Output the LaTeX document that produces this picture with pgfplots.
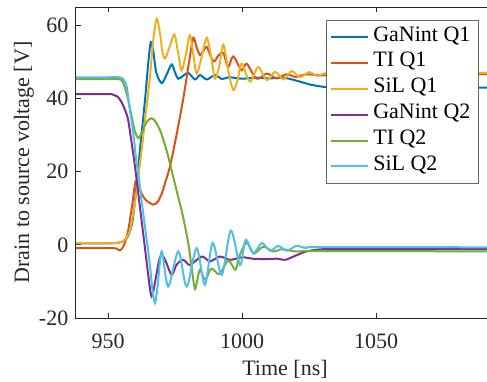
\documentclass[border=0pt]{standalone}
\usepackage{fontspec}
\setmainfont{Liberation Serif}
\usepackage{pgfplots}
\pgfplotsset{compat=1.18}
\definecolor{mBlue}{rgb}{0,0.447,0.741}
\definecolor{mOrange}{rgb}{0.85,0.325,0.098}
\definecolor{mYellow}{rgb}{0.929,0.694,0.125}
\definecolor{mPurple}{rgb}{0.494,0.184,0.556}
\definecolor{mGreen}{rgb}{0.466,0.674,0.188}
\definecolor{mCyan}{rgb}{0.301,0.745,0.933}
\definecolor{axgray}{rgb}{0.15,0.15,0.15}
\begin{document}
\fontsize{11}{13}\selectfont
\begin{tikzpicture}
\begin{axis}[
  name=ax,
  scale only axis,
  width=209pt, height=155.5pt,
  xmin=938, xmax=1094, ymin=-20, ymax=65,
  xtick={950,1000,1050}, ytick={-20,0,20,40,60},
  tick align=inside,
  major tick length=2.5pt,
  axis line style={axgray, line width=0.5pt},
  every tick/.style={axgray, line width=0.5pt},
  /pgf/number format/assume math mode=true,
  /pgf/number format/1000 sep={},
  xticklabel style={anchor=base, yshift=-15pt, text=axgray},
  yticklabel style={text=axgray},
  xlabel={Time [ns]},
  ylabel={Drain to source voltage [V]},
  xlabel style={at={(axis description cs:0.5,0)}, anchor=base, yshift=-28.5pt, text=axgray},
  ylabel style={at={(axis description cs:-0.1245,0.5)}, anchor=center, text=axgray},
  legend cell align=left,
  legend style={at={(rel axis cs:0.9641,0.9582)}, anchor=north east, draw=axgray!70, line width=0.5pt,
    inner xsep=2pt, inner ysep=2pt,
    nodes={inner ysep=0pt, inner xsep=2pt, text height=8.3pt, text depth=4.6pt, text=black}},
  legend image code/.code={\draw[#1] (0pt,0pt) -- (18.5pt,0pt);},
  every axis plot/.append style={line width=1pt, smooth, tension=0.5},
]
\addplot[mBlue] coordinates {
(938,0.4) (950,0.4) (954,0.6) (956,1.2) (957.5,2.5) (959,6) (960,12) (961,19) (962,27) (963,34) (964,41.5) (965,50) (965.9,55.4) (966.8,53) (968,47) (970,44.2) (971.8,46.5) (973.7,49.3) (975,47) (976.2,45.4) (978,46.2) (979.9,47) (982.4,45.2) (984.3,46.4) (986.8,45.2) (989.9,46.4) (992.5,45.3) (995,45.8) (1000,45.4) (1005,45.7) (1010,45.5) (1016,45.6) (1021.6,44.6) (1026,43.7) (1031.7,43.1) (1040,43) (1060,43) (1100,43)};
\addlegendentry{GaNint Q1}
\addplot[mOrange] coordinates {
(938,-0.9) (950,-0.9) (953,-1.0) (954.2,-1.5) (955.2,-1.0) (956.2,0.5) (957.5,4) (959,11) (960.2,17.3) (961.3,16) (962.5,14) (964,12.3) (966.8,11) (968.5,11.8) (970,14) (971.5,17.5) (973.1,21.5) (975.5,30) (978,39.8) (980.5,51.4) (981.8,56.6) (983,54) (984.3,51.9) (985.5,53) (986.8,54.1) (988,52) (989.5,50.1) (991.2,51.8) (993,52.4) (994.8,48.6) (996.7,51.5) (999.8,47.7) (1001.7,49.5) (1005.4,45.4) (1009.2,46.8) (1012.9,45.5) (1016.5,46.6) (1020,45.9) (1024,46.6) (1030,46.3) (1040,46.5) (1100,46.7)};
\addlegendentry{TI Q1}
\addplot[mYellow] coordinates {
(938,0.5) (950,0.5) (954,0.6) (956,1.2) (957.5,2.8) (958.5,5) (960,11.5) (961,17) (962,23) (963,29) (963.7,34) (964.7,40) (965.6,46) (966.8,55.8) (968.1,61.8) (969.3,58) (970.2,53) (971.2,50.9) (972.9,54) (974.7,57.5) (976,53) (977.4,47.7) (979,52) (980.5,57.3) (981.8,52) (983,46.8) (984.8,51) (986.8,56.6) (988.5,51) (989.9,45.4) (991.5,49) (993,54.7) (995,47) (996.7,42.3) (998.3,45) (999.8,49.5) (1002.9,44.6) (1006,48.6) (1009.2,45) (1012.3,47.3) (1015.4,45.2) (1018.5,47.5) (1021.6,45.8) (1025,47.2) (1028,46.2) (1032,47.1) (1036,46.6) (1040,47.1) (1050,47) (1100,47)};
\addlegendentry{SiL Q1}
\addplot[mPurple] coordinates {
(938,41.2) (950,41.2) (952,41) (953.5,40.5) (955,39) (956.5,36.5) (957.5,34) (958.8,27.7) (960,21.5) (961,15.5) (962,9.5) (963,3.5) (964,-2.5) (965,-8.5) (965.7,-12.5) (966.2,-14.1) (966.8,-13) (967.8,-9) (969,-4.3) (970,-2.7) (971.5,-4.5) (973.7,-8.2) (975.5,-5.5) (978,-4.1) (980.5,-5.5) (984.9,-3.2) (988,-4.5) (991.7,-3.2) (995.5,-4.1) (1000,-3.4) (1004,-3.8) (1009,-3.9) (1013,-3.8) (1016,-4.1) (1019.2,-3.2) (1024,-1.8) (1030,-1.2) (1040,-1.1) (1100,-1.2)};
\addlegendentry{GaNint Q2}
\addplot[mGreen] coordinates {
(938,45.3) (950,45.3) (953.5,45.3) (955,45) (956,43.5) (956.9,41.4) (957.8,38.5) (958.8,35) (960,31) (961.3,29.2) (962.5,30.5) (964.3,33.5) (966.2,34.6) (968,33.3) (970,30.1) (972.4,24.2) (974.3,18.5) (976,13.5) (978,7.5) (980,0) (981.3,-7) (982.4,-12.1) (983.3,-9.5) (984.3,-6.8) (986.2,-9.5) (988.5,-6.5) (991.5,-8) (994.8,-4.3) (997.5,-6.8) (999,-3) (1001.7,0.6) (1004.3,-2.4) (1007.9,-0.5) (1011.6,-1.8) (1015,-1.2) (1020,-1.8) (1030,-1.7) (1100,-1.8)};
\addlegendentry{TI Q2}
\addplot[mCyan] coordinates {
(938,45.8) (950,45.8) (954,45.8) (955.6,45.3) (956.9,43.3) (958.1,37) (959.4,30.6) (960.3,24.2) (961.3,19) (962.5,12) (964,3.5) (965.5,-5) (966.5,-12) (967.5,-15.9) (968.5,-11) (970,-1.8) (972.4,-11.4) (976.2,-1.8) (979.3,-11.4) (983,-0.9) (986.1,-10.9) (989,0.5) (992.4,-8.2) (995.8,3.9) (999.2,-5.5) (1001.3,1.4) (1004.2,-2.3) (1007.3,0.5) (1010.4,-1.6) (1013.5,-0.3) (1016.6,-1.6) (1020.3,-0.3) (1024,-0.9) (1030,-0.6) (1100,-0.7)};
\addlegendentry{SiL Q2}
\end{axis}
\pgfresetboundingbox
\useasboundingbox ([xshift=-38pt,yshift=-31.5pt]ax.south west) rectangle ([xshift=205.5pt,yshift=3.5pt]ax.north west);
\end{tikzpicture}
\end{document}
